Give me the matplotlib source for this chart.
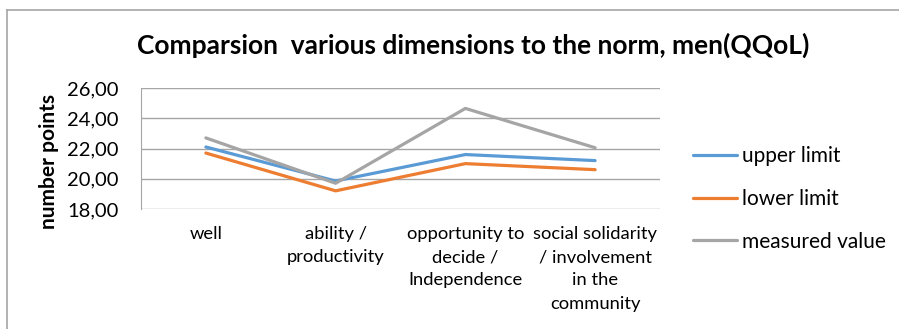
import matplotlib
matplotlib.use("Agg")
import matplotlib.pyplot as plt
from matplotlib.lines import Line2D

plt.rcParams['font.family'] = ['Lato', 'DejaVu Sans']

categories = ["well", "ability /\nproductivity", "opportunity to\ndecide /\nIndependence",
              "social solidarity\n/ involvement\nin the\ncommunity"]
upper_limit = [22.1, 19.85, 21.6, 21.2]
lower_limit = [21.7, 19.2, 21.0, 20.6]
measured_value = [22.7, 19.7, 24.65, 22.05]
yticks = [18, 20, 22, 24, 26]

fig = plt.figure(figsize=(8.99, 3.29), dpi=100)
ax = fig.add_axes([141/899, 1 - 209/329, (660 - 141)/899, (209 - 88)/329])

x = range(len(categories))
ax.plot(x, upper_limit, color='#5B9BD5', lw=2.3, label='upper limit', solid_capstyle='round')
ax.plot(x, lower_limit, color='#ED7D31', lw=2.3, label='lower limit', solid_capstyle='round')
ax.plot(x, measured_value, color='#A5A5A5', lw=2.3, label='measured value', solid_capstyle='round')

ax.set_xlim(-0.5, len(categories) - 0.5)
ax.set_ylim(18, 26)
ax.set_yticks(yticks)
ax.set_yticklabels([('%.2f' % v).replace('.', ',') for v in yticks], fontsize=14.5)
ax.yaxis.set_tick_params(length=0, pad=16)
ax.set_xticks(list(x))
ax.set_xticklabels(categories, fontsize=13.2, va='top', linespacing=1.57)
ax.xaxis.set_tick_params(length=0, pad=12)

ax.grid(axis='y', color='#A6A6A6', lw=1)
ax.set_axisbelow(True)
for s in ['top', 'right', 'bottom']:
    ax.spines[s].set_visible(False)
ax.spines['left'].set_color('#A6A6A6')

ax.set_ylabel('number points', fontsize=15, fontweight='bold', labelpad=1)
ax.yaxis.set_label_coords(-82/519, 0.39)

fig.text(473/899, 1 - 45/329, 'Comparsion  various dimensions to the norm, men(QQoL)',
         ha='center', va='center', fontsize=19, fontweight='bold')

handles, labels = ax.get_legend_handles_labels()
fig.legend(handles, labels, loc='center left', bbox_to_anchor=(674/899, 1 - 199/329),
           frameon=False, fontsize=15, handlelength=2.1, handletextpad=0.25,
           labelspacing=1.08)

# outer frame (only top and left edges show)
fig.add_artist(Line2D([7/899, 7/899], [0, 1 - 10/329], transform=fig.transFigure,
                      color='#A6A6A6', lw=1.2))
fig.add_artist(Line2D([7/899, 1], [1 - 10/329, 1 - 10/329], transform=fig.transFigure,
                      color='#A6A6A6', lw=1.2))

fig.savefig('out.png', dpi=100)
